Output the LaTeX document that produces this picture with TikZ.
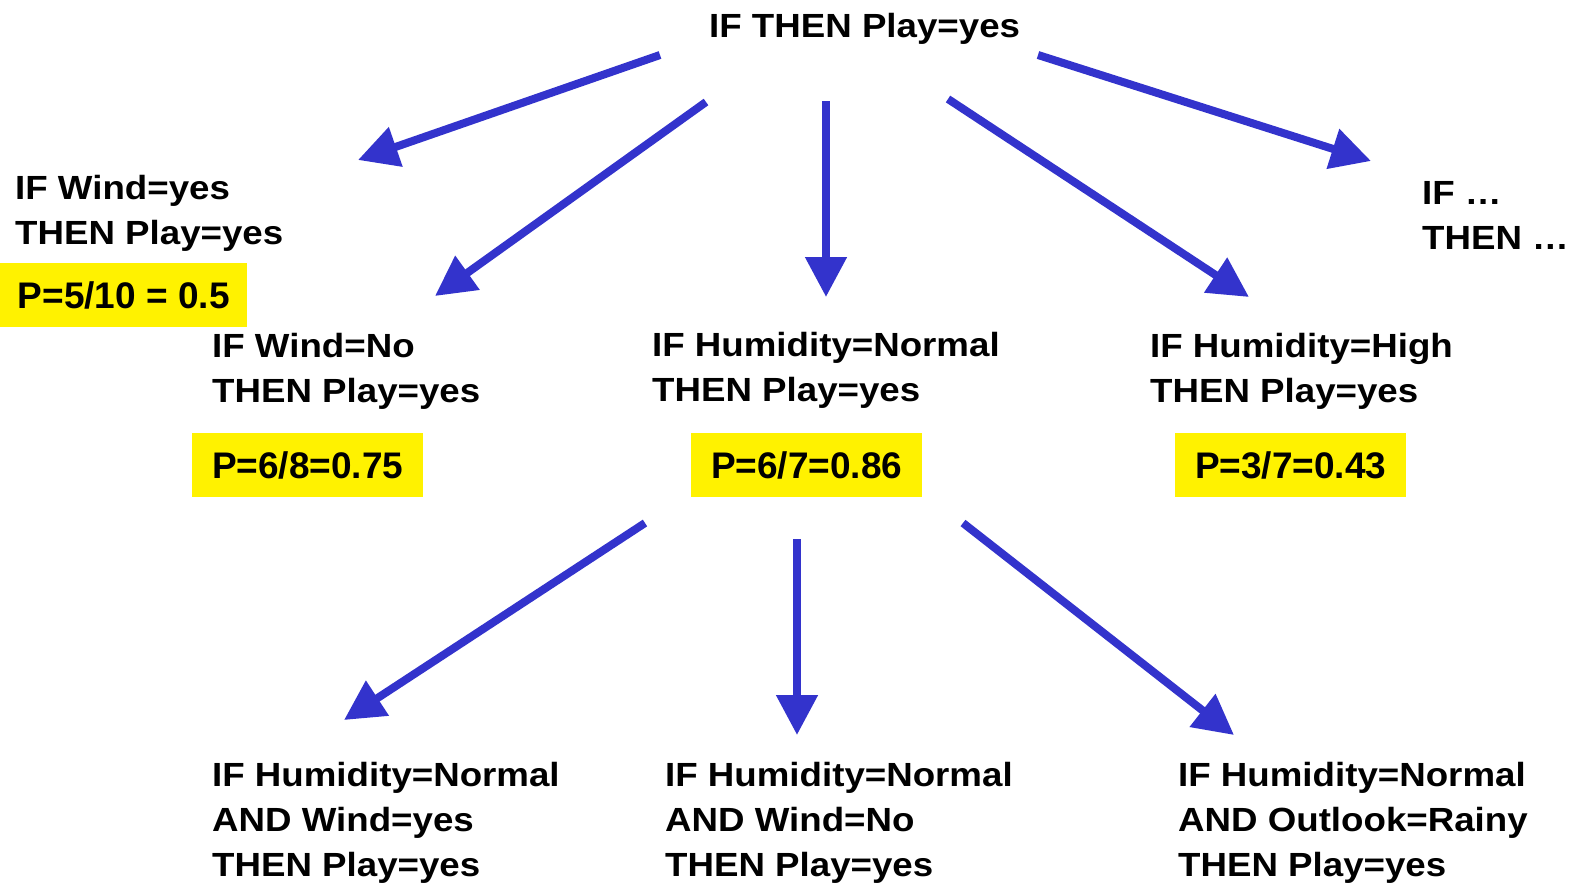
\documentclass[tikz,border=0pt]{standalone}
\usepackage{fontspec}
\setmainfont{Liberation Sans}
\newfontfamily\rulefont[FakeStretch=1.095]{Liberation Sans}
\usetikzlibrary{arrows.meta}
\definecolor{arrowblue}{RGB}{51,51,204}
\begin{document}
\begin{tikzpicture}[x=1pt,y=-1pt,
  rule/.style={anchor=north west, inner sep=0pt, align=left,
    font=\rulefont\bfseries\fontsize{33.5}{45}\selectfont},
  prob/.style={anchor=north west, fill=yellow, inner sep=0pt,
    minimum width=231pt, minimum height=64pt,
    font=\bfseries\fontsize{37}{40}\selectfont},
  link/.style={draw=arrowblue, line width=8pt,
    -{Triangle[width=40pt,length=40pt]}}]
\useasboundingbox (0,0) rectangle (1577,884);

% rules
\node[rule] (root) at (709,13) {IF THEN Play=yes};
\node[rule] (windyes) at (15,175) {IF Wind=yes\\THEN Play=yes};
\node[prob, minimum width=247pt] (pwindyes) at (0,263) {P=5/10 = 0.5};
\node[rule] (windno) at (212,333) {IF Wind=No\\THEN Play=yes};
\node[prob] (pwindno) at (192,433) {P=6/8=0.75};
\node[rule] (humnorm) at (652,332) {IF Humidity=Normal\\THEN Play=yes};
\node[prob] (phumnorm) at (691,433) {P=6/7=0.86};
\node[rule] (humhigh) at (1150,333) {IF Humidity=High\\THEN Play=yes};
\node[prob] (phumhigh) at (1175,433) {P=3/7=0.43};
\node[rule] (other) at (1422,181) {IF …\\THEN …};
\node[rule] (normwindyes) at (212,762) {IF Humidity=Normal\\AND Wind=yes\\THEN Play=yes};
\node[rule] (normwindno) at (665,762) {IF Humidity=Normal\\AND Wind=No\\THEN Play=yes};
\node[rule] (normrainy) at (1178,762) {IF Humidity=Normal\\AND Outlook=Rainy\\THEN Play=yes};

% arrow ends
\coordinate (a1s) at (660,55);   \coordinate (a1e) at (358,160);
\coordinate (a2s) at (706,102);  \coordinate (a2e) at (435,296);
\coordinate (a3s) at (826,101);  \coordinate (a3e) at (826,297);
\coordinate (a4s) at (948,99);   \coordinate (a4e) at (1249,297);
\coordinate (a5s) at (1038,55);  \coordinate (a5e) at (1371,161);
\coordinate (b1s) at (645,523);  \coordinate (b1e) at (344,720);
\coordinate (b2s) at (797,539);  \coordinate (b2e) at (797,735);
\coordinate (b3s) at (963,523);  \coordinate (b3e) at (1234,735);

\draw[link] (a1s) -- (a1e);
\draw[link] (a2s) -- (a2e);
\draw[link] (a3s) -- (a3e);
\draw[link] (a4s) -- (a4e);
\draw[link] (a5s) -- (a5e);
\draw[link] (b1s) -- (b1e);
\draw[link] (b2s) -- (b2e);
\draw[link] (b3s) -- (b3e);
\end{tikzpicture}
\end{document}
